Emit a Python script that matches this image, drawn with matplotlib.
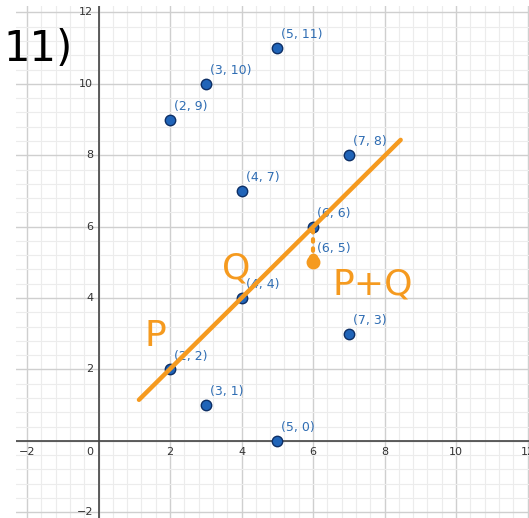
import numpy as np
import matplotlib.pyplot as plt
from matplotlib.ticker import MultipleLocator

# points on the grid
px = [5, 3, 2, 7, 4, 6, 6, 4, 7, 2, 3, 5]
py = [11, 10, 9, 8, 7, 6, 5, 4, 3, 2, 1, 0]

# hand-drawn line through P and Q
line_x = [1.13, 8.45]
line_y = [1.15, 8.43]

blue = '#2064b8'
edge = '#0d2f66'
label_blue = '#2f6db3'
orange = '#f59a1f'

fig = plt.figure(figsize=(5.29, 5.18), dpi=100)
ax = fig.add_axes([16 / 529, 0, 1 - 16 / 529, 1 - 6 / 518])
ax.set_xlim(-2.31, 12.04)
ax.set_ylim(-2.16, 12.18)

ax.xaxis.set_major_locator(MultipleLocator(2))
ax.yaxis.set_major_locator(MultipleLocator(2))
ax.xaxis.set_minor_locator(MultipleLocator(0.4))
ax.yaxis.set_minor_locator(MultipleLocator(0.4))
ax.grid(which='minor', color='#ececec', linewidth=0.8)
ax.grid(which='major', color='#cfcfcf', linewidth=1.0)
ax.set_axisbelow(True)
ax.tick_params(which='both', length=0, labelbottom=False, labelleft=False)
for s in ax.spines.values():
    s.set_visible(False)

ax.axhline(0, color='#444444', lw=1.2, zorder=1)
ax.axvline(0, color='#444444', lw=1.2, zorder=1)

# axis numbers sit next to the axes like a graphing calculator
for v in range(-2, 13, 2):
    lab = str(v).replace('-', '\u2212')
    if v == 0:
        ax.text(-0.15, -0.3, '0', ha='right', va='center', fontsize=8, color='#333333')
        continue
    ax.text(v, -0.32, lab, ha='center', va='center', fontsize=8, color='#333333')
    ax.text(-0.15, v, lab, ha='right', va='center', fontsize=8, color='#333333')

ax.plot(px, py, 'o', ms=7.5, mfc=blue, mec=edge, mew=1.0, zorder=3)
for x, y in zip(px, py):
    ax.annotate(f'({x}, {y})', (x, y), xytext=(3, 5), textcoords='offset points',
                ha='left', va='bottom', fontsize=9, color=label_blue, zorder=3)

# orange annotations
ax.plot(line_x, line_y, color=orange, lw=3.2, solid_capstyle='round', zorder=4)
ax.plot([6, 6], [5.9, 5.25], color=orange, lw=3, ls=(0, (0.6, 1.6)),
        dash_capstyle='round', zorder=4)
ax.plot([6], [5.0], marker='o', ms=9, color=orange, zorder=4)
ax.plot([6], [5.12], marker='o', ms=6, color=orange, zorder=4)

fig.text(0.293, 0.352, 'P', fontsize=26, color=orange, ha='center', va='center')
fig.text(0.447, 0.482, 'Q', fontsize=26, color=orange, ha='center', va='center')
fig.text(0.705, 0.45, 'P+Q', fontsize=26, color=orange, ha='center', va='center')
fig.text(0.072, 0.905, '11)', fontsize=30, color='black', ha='center', va='center')

fig.savefig('out.png', dpi=100)
